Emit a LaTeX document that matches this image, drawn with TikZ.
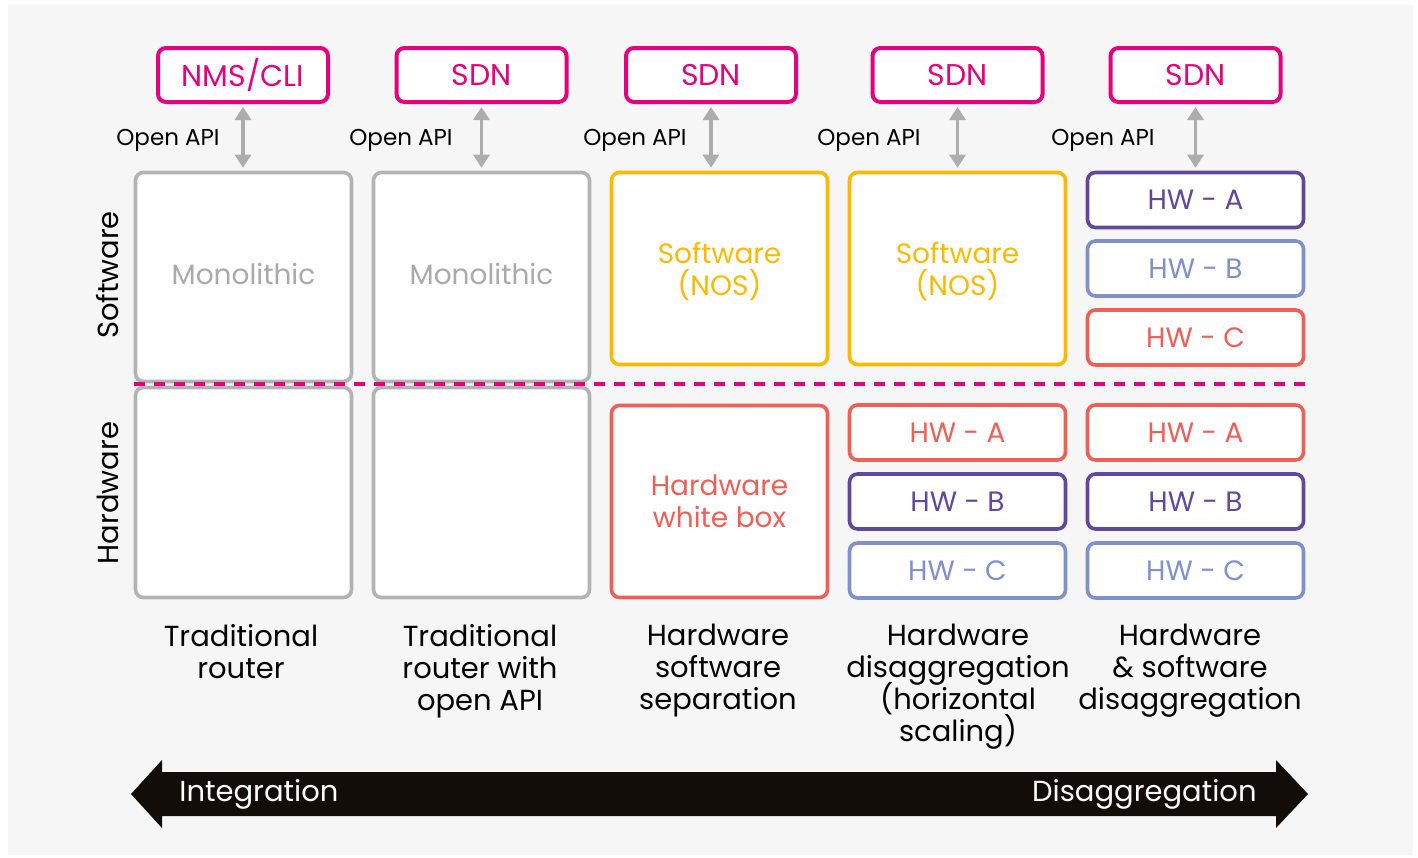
\documentclass[tikz,border=0pt]{standalone}
\usepackage{fontspec}
\setmainfont{Poppins}
\usetikzlibrary{arrows.meta}
\definecolor{bgc}{HTML}{F6F6F6}
\definecolor{magc}{HTML}{E5007D}
\definecolor{greyc}{HTML}{B3B3B3}
\definecolor{yelc}{HTML}{FBBA00}
\definecolor{redc}{HTML}{EE6057}
\definecolor{purc}{HTML}{5E4A9D}
\definecolor{lpurc}{HTML}{8290C9}
\definecolor{arrc}{HTML}{ADADAD}
\definecolor{blkc}{HTML}{130D0A}
\newcommand\tightlines{\lineskiplimit=-20pt\relax}
\tikzset{
 rbox/.style={draw=#1, text=#1, fill=white, line width=1.8pt, rounded corners=4pt, inner sep=0pt, align=center, font=\fontsize{14}{16}\selectfont\tightlines},
 topbox/.style={rbox=magc, line width=2pt, minimum width=85pt, minimum height=27pt, font=\fontsize{15}{18}\selectfont},
 colw/.style={minimum width=108pt},
 tallsw/.style={colw, minimum height=104.5pt},
 tallhw/.style={colw, minimum height=105pt},
 midbox/.style={colw, minimum height=96pt},
 hwbox/.style={colw, minimum height=27.5pt},
 apiarrow/.style={draw=arrc, line width=1.6pt, {Triangle[width=8pt,length=6.5pt]}-{Triangle[width=8pt,length=6.5pt]}, shorten <=1.5pt, shorten >=1.5pt},
 apilabel/.style={anchor=base east, inner sep=0pt, font=\fontsize{11.5}{14}\selectfont},
 caption/.style={anchor=north, align=center, inner sep=0pt, font=\fontsize{14.5}{16}\selectfont\tightlines},
 sidelabel/.style={rotate=90, inner sep=0pt, font=\fontsize{14.5}{18}\selectfont},
 divider/.style={draw=magc, line width=1.8pt, dash pattern=on 5.5pt off 4.5pt},
 barlabel/.style={text=white, inner sep=0pt, font=\fontsize{14.5}{18}\selectfont},
}
\begin{document}
\begin{tikzpicture}[x=0.5pt,y=-0.5pt]
\useasboundingbox (0,0) rectangle (1418,857);
\fill[white] (0,0) rectangle (1418,857);
\fill[bgc] (8,5) rectangle (1413,855);

% top boxes
\node[topbox] (t1) at (243,75) {NMS/CLI};
\node[topbox] (t2) at (481.5,75) {SDN};
\node[topbox] (t3) at (711,75) {SDN};
\node[topbox] (t4) at (957.5,75) {SDN};
\node[topbox] (t5) at (1195.5,75) {SDN};

% column 1 and 2
\node[rbox=greyc, tallhw] (h1) at (243.5,492.5) {};
\node[rbox=greyc, tallhw] (h2) at (481.5,492.5) {};
\node[rbox=greyc, tallsw, text=greyc!95!black] (s1) at (243.5,277) {Monolithic\vphantom{y}};
\node[rbox=greyc, tallsw, text=greyc!95!black] (s2) at (481.5,277) {Monolithic\vphantom{y}};

% column 3
\node[rbox=yelc, midbox, text depth=0pt] (s3) at (719.5,268.5) {Software\\(NOS)};
\node[rbox=redc, midbox] (h3) at (719.5,501.5) {Hardware\\white box};

% column 4
\node[rbox=yelc, midbox, text depth=0pt] (s4) at (957.5,268.5) {Software\\(NOS)};
\node[rbox=redc, hwbox] (h4a) at (957.5,432.5) {HW - A};
\node[rbox=purc, hwbox] (h4b) at (957.5,501.5) {HW - B};
\node[rbox=lpurc, hwbox] (h4c) at (957.5,570.5) {HW - C};

% column 5
\node[rbox=purc, hwbox] (s5a) at (1195.5,200) {HW - A};
\node[rbox=lpurc, hwbox] (s5b) at (1195.5,268.5) {HW - B};
\node[rbox=redc, hwbox] (s5c) at (1195.5,337.5) {HW - C};
\node[rbox=redc, hwbox] (h5a) at (1195.5,432.5) {HW - A};
\node[rbox=purc, hwbox] (h5b) at (1195.5,501.5) {HW - B};
\node[rbox=lpurc, hwbox] (h5c) at (1195.5,570.5) {HW - C};

% divider
\coordinate (dl) at (134,384);
\coordinate (dr) at (1310,384);
\draw[divider] (dl) -- (dr);

% API arrows
\draw[apiarrow] (t1.south) -- (t1.south |- s1.north);
\draw[apiarrow] (t2.south) -- (t2.south |- s2.north);
\draw[apiarrow] (t3.south) -- (t3.south |- s3.north);
\draw[apiarrow] (t4.south) -- (t4.south |- s4.north);
\draw[apiarrow] (t5.south) -- (t5.south |- s5a.north);

\node[apilabel] (a1) at (220,145.5) {Open API};
\node[apilabel] (a2) at (453,145.5) {Open API};
\node[apilabel] (a3) at (687,145.5) {Open API};
\node[apilabel] (a4) at (921,145.5) {Open API};
\node[apilabel] (a5) at (1155,145.5) {Open API};

% side labels
\node[sidelabel] (lsw) at (108,275) {Software};
\node[sidelabel] (lhw) at (108,493) {Hardware};

% captions
\node[caption] (c1) at (241,624) {Traditional\\router};
\node[caption] (c2) at (480,624) {Traditional\\router with\\open API};
\node[caption] (c3) at (718,624) {Hardware\\software\\separation};
\node[caption] (c4) at (958,624) {Hardware\\disaggregation\\(horizontal\\scaling)};
\node[caption] (c5) at (1190,624) {Hardware\\\&\ software\\disaggregation};

% big arrow
\fill[blkc] (131,794) -- (162,760) -- (162,772) -- (1276,772) -- (1276,760) -- (1308,794) -- (1276,828) -- (1276,816) -- (162,816) -- (162,828) -- cycle;
\node[barlabel, anchor=base west] (int) at (179,801.5) {Integration};
\node[barlabel, anchor=base east] (dis) at (1257,801.5) {Disaggregation};
\end{tikzpicture}
\end{document}
